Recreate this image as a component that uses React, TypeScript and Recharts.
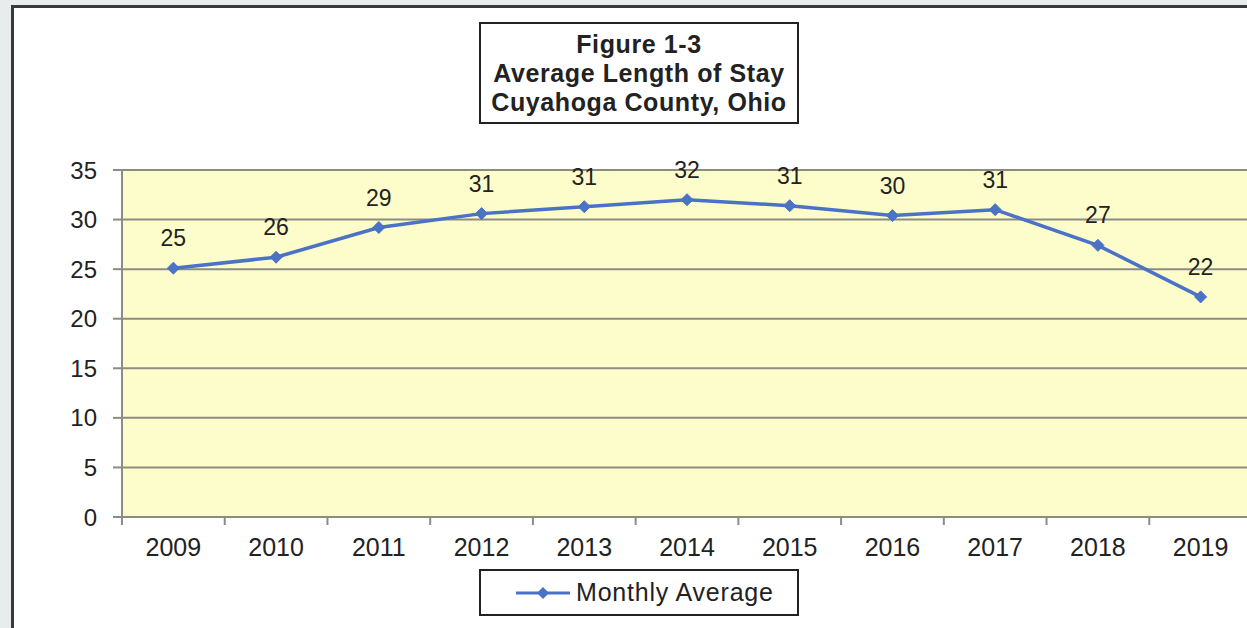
import React from "react";
import {
  LineChart,
  Line,
  XAxis,
  YAxis,
  CartesianGrid,
  LabelList,
  Legend,
} from "recharts";

const years = ["2009", "2010", "2011", "2012", "2013", "2014", "2015", "2016", "2017", "2018", "2019"];
const monthlyAverage = [25.1, 26.2, 29.2, 30.6, 31.3, 32.0, 31.4, 30.4, 31.0, 27.4, 22.2];
const yTicks = [0, 5, 10, 15, 20, 25, 30, 35];
const boundaryTicks = [0, 1, 2, 3, 4, 5, 6, 7, 8, 9, 10, 11];
const titleLines = ["Figure 1-3", "Average Length of Stay", "Cuyahoga County, Ohio"];
const seriesName = "Monthly Average";

const data = years.map((y, i) => ({ year: y, slot: i + 0.5, value: monthlyAverage[i] }));

const FONT = "'Liberation Sans', Arial, sans-serif";
const BLUE = "#4a72c6";

const Diamond = (props: any) => {
  const { cx, cy } = props;
  if (cx == null || cy == null) return null;
  const r = 6;
  return (
    <polygon
      points={`${cx},${cy - r} ${cx + r},${cy} ${cx},${cy + r} ${cx - r},${cy}`}
      fill={BLUE}
      stroke={BLUE}
    />
  );
};

const EmptyTick = () => <g />;

const LegendContent = () => (
  <div
    style={{
      boxSizing: "border-box",
      width: 320,
      height: 47,
      border: "2px solid #222",
      background: "#fff",
      display: "flex",
      alignItems: "center",
      fontFamily: FONT,
      fontSize: 25,
      letterSpacing: 0.8,
      color: "#222",
    }}
  >
    <svg width={58} height={20} style={{ marginLeft: 33, marginRight: 4 }}>
      <line x1={2} y1={10} x2={56} y2={10} stroke={BLUE} strokeWidth={3} />
      <polygon points="29,4 35,10 29,16 23,10" fill={BLUE} />
    </svg>
    <span>{seriesName}</span>
  </div>
);

export default function App() {
  return (
    <div
      style={{
        position: "absolute",
        left: 0,
        top: 0,
        width: 1247,
        height: 628,
        overflow: "hidden",
        background: "#e9ecec",
      }}
    >
      <div
        style={{
          position: "absolute",
          left: 11,
          top: 5,
          width: 1260,
          height: 640,
          border: "3px solid #3a3a3a",
          background: "#ffffff",
        }}
      />
      <div
        style={{
          position: "absolute",
          left: 479,
          top: 22,
          width: 320,
          height: 102,
          boxSizing: "border-box",
          border: "2px solid #222",
          background: "#fff",
          fontFamily: FONT,
          fontWeight: "bold",
          fontSize: 25,
          letterSpacing: 0.6,
          lineHeight: "29px",
          color: "#222",
          textAlign: "center",
          paddingTop: 6,
          whiteSpace: "nowrap",
        }}
      >
        {titleLines.map((t) => (
          <div key={t}>{t}</div>
        ))}
      </div>
      <div style={{ position: "absolute", left: 0, top: 0 }}>
        <LineChart
          width={1260}
          height={628}
          data={data}
          margin={{ top: 170, right: 8, left: 62, bottom: 61 }}
        >
          <CartesianGrid
            xAxisId="b_years"
            horizontal={true}
            vertical={false}
            fill="#fdfccb"
            stroke="#8c8c84"
            strokeWidth={2}
          />
          <XAxis
            xAxisId="a_ticks"
            dataKey="slot"
            type="number"
            domain={[0, 11]}
            allowDataOverflow
            ticks={boundaryTicks}
            tick={<EmptyTick />}
            tickLine={{ stroke: "#8c8c84", strokeWidth: 2 }}
            tickSize={8}
            height={10}
            stroke="#8c8c84"
            strokeWidth={2}
            interval={0}
          />
          <XAxis
            xAxisId="b_years"
            dataKey="year"
            scale="band"
            height={40}
            axisLine={false}
            tickLine={false}
            tickSize={0}
            tickMargin={11}
            interval={0}
            tick={{ fontFamily: FONT, fontSize: 25, fill: "#222" }}
          />
          <YAxis
            domain={[0, 35]}
            ticks={yTicks}
            width={60}
            tickSize={9}
            tickMargin={16}
            stroke="#8c8c84"
            strokeWidth={2}
            tick={{ fontFamily: FONT, fontSize: 24, fill: "#222" }}
            interval={0}
          />
          <Legend
            layout="horizontal"
            verticalAlign="middle"
            align="center"
            wrapperStyle={{ position: "absolute", left: 479, top: 569, width: 320, height: 47 }}
            content={<LegendContent />}
          />
          <Line
            xAxisId="b_years"
            type="linear"
            dataKey="value"
            name={seriesName}
            stroke={BLUE}
            strokeWidth={3.5}
            dot={<Diamond />}
            activeDot={false}
            isAnimationActive={false}
          >
            <LabelList
              dataKey="value"
              position="top"
              offset={22}
              formatter={(v: any) => Math.round(Number(v))}
              style={{ fontFamily: FONT, fontSize: 23, fill: "#222" }}
            />
          </Line>
        </LineChart>
      </div>
    </div>
  );
}
